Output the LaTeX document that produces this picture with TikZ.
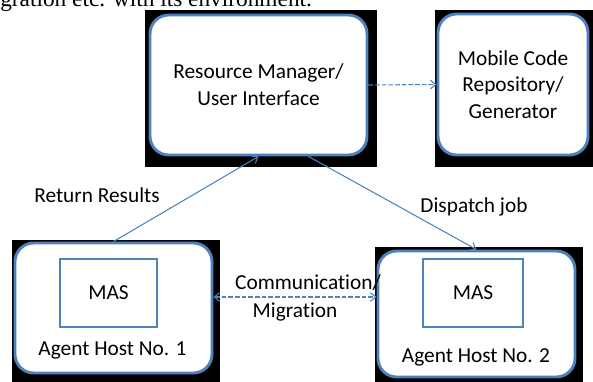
\documentclass[tikz,border=0pt]{standalone}
\usepackage{xcolor}
\usepackage{fontspec}
\setmainfont{Carlito}[Ligatures=NoCommon]
\newfontfamily\bodyserif{Liberation Serif}
\usetikzlibrary{arrows.meta}
\definecolor{boxblue}{RGB}{79,129,189}

\begin{document}
\begin{tikzpicture}[x=0.75pt,y=0.75pt,yscale=-1,xscale=1,
  every node/.style={font=\fontsize{16}{20}\selectfont},
  hostbox/.style={draw=boxblue,line width=2.2pt,fill=white,rounded corners=14pt,align=center,inner sep=0pt},
  masbox/.style={draw=boxblue,line width=2pt,fill=white,inner sep=0pt},
  link/.style={draw=boxblue,line width=0.8pt,-{Straight Barb[length=4pt,width=6.5pt]}},
  dashlink/.style={link,dash pattern=on 3.5pt off 1.5pt}]
\useasboundingbox (0,0) rectangle (593,382);

% Text Node (line of body text above the figure)
\node[font=\bodyserif\fontsize{17.5}{20}\selectfont,anchor=base west,inner sep=0pt] (topline) at (0,7) {gration etc. with its environment.};

%Shadows behind the boxes
\fill (145,10) rectangle (377,167);
\fill (435,10) rectangle (593,167);
\fill (12,240) rectangle (220,382);
\fill (375,247) rectangle (583,382);

%Rounded Rect: manager
\node[hostbox,minimum width=162.75pt,minimum height=105pt] (rm) at (258.5,85) {Resource Manager/\\User Interface};
%Rounded Rect: code repository
\node[hostbox,minimum width=112.5pt,minimum height=105.75pt] (mcr) at (513,84.5) {Mobile Code\\Repository/\\Generator};
%Rounded Rect: hosts
\node[hostbox,minimum width=147.75pt,minimum height=97.5pt] (ah1) at (113.5,308) {};
\node[hostbox,minimum width=147.75pt,minimum height=94.5pt] (ah2) at (476.5,314) {};
%Rect: MAS
\node[masbox,minimum width=72.75pt,minimum height=51pt] (mas1) at (108.5,293) {MAS};
\node[masbox,minimum width=75pt,minimum height=51pt] (mas2) at (473,293) {MAS};

% Text Node
\node (ah1lbl) at (112.5,350) {Agent Host No. 1};
% Text Node
\node (ah2lbl) at (476,357) {Agent Host No. 2};

%Straight Lines
\draw[dashlink] (rm.east) -- (mcr.west);
\draw[link] (ah1.north) -- (rm.south);
\draw[link] ([xshift=37.5pt]rm.south) -- (ah2.north);
\draw[dashlink,{Straight Barb[length=4pt,width=6.5pt]}-{Straight Barb[length=4pt,width=6.5pt]}] ([yshift=-8.25pt]ah1.east) -- ([yshift=-12.75pt]ah2.west);

% Text Node
\node (retlbl) at (97,195) {Return Results};
% Text Node
\node (dsplbl) at (474,207) {Dispatch job};
% Text Node
\node (commlbl) at (308,283) {Communication/};
% Text Node
\node (miglbl) at (295,312) {Migration};

\end{tikzpicture}
\end{document}
